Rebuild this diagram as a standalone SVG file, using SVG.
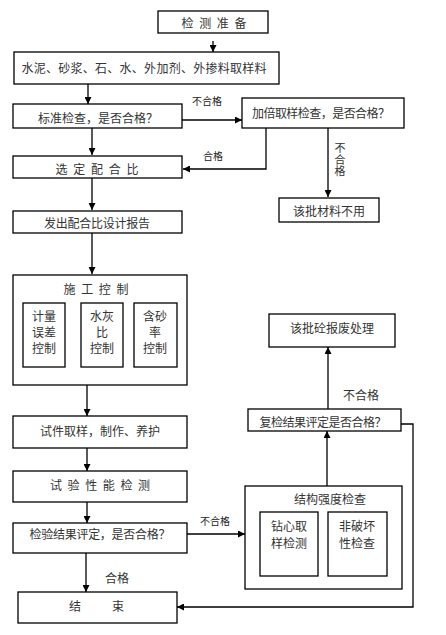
<svg xmlns="http://www.w3.org/2000/svg" width="446" height="635" viewBox="0 0 446 635">
<style>
.b{fill:#fff;stroke:#000;stroke-width:1.3}
.t{font-family:"Noto Sans CJK SC","Liberation Sans",sans-serif;font-size:12px;fill:#333;dominant-baseline:central;text-anchor:middle}
.s{font-size:10px;fill:#222}
.v{writing-mode:vertical-rl;font-size:11px;letter-spacing:0.5px;fill:#333}
.c{fill:none;stroke:#000;stroke-width:1.3}
</style>
<defs>
<marker id="a" viewBox="0 0 10 10" refX="10" refY="5" markerWidth="7" markerHeight="7" markerUnits="userSpaceOnUse" orient="auto"><path d="M0,0 L10,5 L0,10 z" fill="#000"/></marker>
</defs>
<rect width="446" height="635" fill="#fff"/>
<g id="connectors">
<path class="c" d="M213,41 V52" marker-end="url(#a)"/>
<path class="c" d="M88,84 V104" marker-end="url(#a)"/>
<path class="c" d="M182,120 H242" marker-end="url(#a)"/>
<path class="c" d="M92,128 V155" marker-end="url(#a)"/>
<path class="c" d="M266,128 V169 H183" marker-end="url(#a)"/>
<path class="c" d="M328,128 V197" marker-end="url(#a)"/>
<path class="c" d="M92,178 V210" marker-end="url(#a)"/>
<path class="c" d="M92,233 V274" marker-end="url(#a)"/>
<path class="c" d="M87,385 V416" marker-end="url(#a)"/>
<path class="c" d="M87,448 V471" marker-end="url(#a)"/>
<path class="c" d="M87,502 V523" marker-end="url(#a)"/>
<path class="c" d="M86,553 V592" marker-end="url(#a)"/>
<path class="c" d="M187,534 H245" marker-end="url(#a)"/>
<path class="c" d="M327,486 V431" marker-end="url(#a)"/>
<path class="c" d="M328,409 V347" marker-end="url(#a)"/>
<path class="c" d="M401,424 H413 V607 H177" marker-end="url(#a)"/>
<text class="t s" x="207" y="100">不合格</text>
<text class="t s" x="213" y="155">合格</text>
<text class="t v" x="340" y="160">不合格</text>
<text class="t" x="361" y="394">不合格</text>
<text class="t s" x="215" y="520">不合格</text>
<text class="t" x="117" y="577">合格</text>
</g>
<g id="n1"><rect class="b" x="158" y="11" width="110" height="22"/><text class="t" x="214" y="22" textLength="65" lengthAdjust="spacing">检 测 准 备</text></g>
<g id="n2"><rect class="b" x="14" y="52" width="265" height="32"/><text class="t" x="144" y="67" textLength="245" lengthAdjust="spacing">水泥、砂浆、石、水、外加剂、外掺料取样料</text></g>
<g id="n3"><rect class="b" x="13" y="104" width="169" height="24"/><text class="t" x="98" y="117">标准检查，是否合格？</text></g>
<g id="n4"><rect class="b" x="242" y="98" width="162" height="30"/><text class="t" x="321" y="112" textLength="138" lengthAdjust="spacing">加倍取样检查，是否合格？</text></g>
<g id="n5"><rect class="b" x="13" y="156" width="169" height="22"/><text class="t" x="97" y="168" textLength="83" lengthAdjust="spacing">选 定 配 合 比</text></g>
<g id="n6"><rect class="b" x="279" y="198" width="100" height="24"/><text class="t" x="329" y="210">该批材料不用</text></g>
<g id="n7"><rect class="b" x="13" y="211" width="169" height="22"/><text class="t" x="97" y="222" textLength="106" lengthAdjust="spacing">发出配合比设计报告</text></g>
<g id="n8"><rect class="b" x="13" y="275" width="174" height="110"/><text class="t" x="96" y="288" textLength="65" lengthAdjust="spacing">施 工 控 制</text>
<rect class="b" x="23" y="303" width="42" height="64"/><text class="t" x="44" y="315">计量</text><text class="t" x="44" y="331">误差</text><text class="t" x="44" y="347">控制</text>
<rect class="b" x="81" y="303" width="42" height="64"/><text class="t" x="102" y="315">水灰</text><text class="t" x="102" y="331">比</text><text class="t" x="102" y="347">控制</text>
<rect class="b" x="134" y="303" width="43" height="64"/><text class="t" x="155" y="315">含砂</text><text class="t" x="155" y="331">率</text><text class="t" x="155" y="347">控制</text></g>
<g id="n9"><rect class="b" x="269" y="314" width="126" height="33"/><text class="t" x="332" y="327">该批砼报废处理</text></g>
<g id="n10"><rect class="b" x="248" y="409" width="153" height="22"/><text class="t" x="323" y="421" textLength="127" lengthAdjust="spacing">复检结果评定是否合格？</text></g>
<g id="n11"><rect class="b" x="13" y="416" width="174" height="32"/><text class="t" x="100" y="430" textLength="120" lengthAdjust="spacing">试件取样，制作、养护</text></g>
<g id="n12"><rect class="b" x="13" y="471" width="174" height="31"/><text class="t" x="100" y="484" textLength="100" lengthAdjust="spacing">试 验 性 能 检 测</text></g>
<g id="n13"><rect class="b" x="245" y="486" width="157" height="103"/><text class="t" x="330" y="498">结构强度检查</text>
<rect class="b" x="260" y="512" width="58" height="64"/><text class="t" x="289" y="525">钻心取</text><text class="t" x="289" y="542">样检测</text>
<rect class="b" x="328" y="512" width="59" height="64"/><text class="t" x="357" y="525">非破坏</text><text class="t" x="357" y="542">性检查</text></g>
<g id="n14"><rect class="b" x="13" y="523" width="174" height="30"/><text class="t" x="100" y="533" textLength="141" lengthAdjust="spacing">检验结果评定，是否合格？</text></g>
<g id="n15"><rect class="b" x="18" y="592" width="159" height="31"/><text class="t" x="75" y="605">结</text><text class="t" x="118" y="605">束</text></g>
</svg>
